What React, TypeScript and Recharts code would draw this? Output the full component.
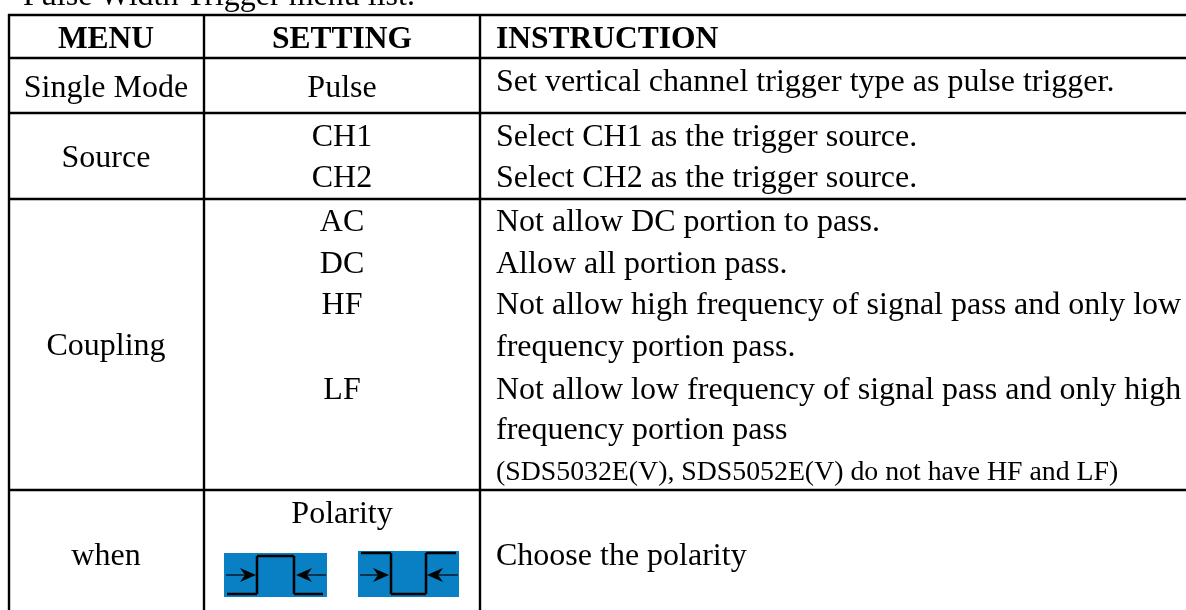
import React from "react";
import { ComposedChart, XAxis, YAxis, Scatter, ReferenceLine, ReferenceArea } from "recharts";

const W = 1186;
const H = 610;
const titleText = ["Pulse Width Trigger menu list."];
const titleBase = [5];
const menuTexts = ["Single Mode", "Source", "Coupling", "when"];
const menuBase = [97, 167, 355, 565];
const settingTexts = ["Pulse", "CH1", "CH2", "AC", "DC", "HF", "LF", "Polarity"];
const settingBase = [97, 146, 187, 231, 273, 314, 399, 523];
const instructionTexts = [
  "Set vertical channel trigger type as pulse trigger.",
  "Select CH1 as the trigger source.",
  "Select CH2 as the trigger source.",
  "Not allow DC portion to pass.",
  "Allow all portion pass.",
  "Not allow high frequency of signal pass and only low",
  "frequency portion pass.",
  "Not allow low frequency of signal pass and only high",
  "frequency portion pass",
  "Choose the polarity",
];
const instructionBase = [91, 146, 187, 231, 273, 314, 356, 399, 439, 565];
const noteText = ["(SDS5032E(V), SDS5052E(V) do not have HF and LF)"];
const noteBase = [480];
const headerTexts = ["MENU", "SETTING", "INSTRUCTION"];
const headerX = [106, 342, 496];
const headerBase = 48;
const hRules = [15, 58, 113, 199, 490];
const vRules = [9, 204, 480];

const FONT = "'Liberation Serif', 'Times New Roman', serif";

const cells = (texts: string[], base: number[], x: number) =>
  texts.map((t, i) => ({ x, y: base[i], t }));

const TextShape = (size: number, anchor: string, weight = 400) => (p: any) => (
  <text x={p.cx} y={p.cy} textAnchor={anchor} fontSize={size} fontWeight={weight} fontFamily={FONT} fill="#000">
    {p.payload.t}
  </text>
);

const arrowShape = (p: any) => {
  const d = p.payload.dir;
  const { cx, cy } = p;
  return (
    <path d={`M${cx} ${cy} L${cx - d * 16} ${cy - 7} L${cx - d * 11} ${cy} L${cx - d * 16} ${cy + 7} Z`} fill="#000" />
  );
};

const iconAreas = [
  { x1: 224, x2: 327, y1: 553, y2: 597 },
  { x1: 358, x2: 459, y1: 551, y2: 597 },
];
const iconPaths = [
  [[227, 594], [257, 594], [257, 556], [294, 556], [294, 594], [323, 594]],
  [[361, 553], [391, 553], [391, 594], [426, 594], [426, 553], [456, 553]],
];
const iconStems = [
  [[226, 575], [250, 575]],
  [[326, 575], [302, 575]],
  [[360, 575], [383, 575]],
  [[458, 575], [433, 575]],
];
const arrowTips = [
  { x: 256, y: 575, dir: 1 },
  { x: 296, y: 575, dir: -1 },
  { x: 389, y: 575, dir: 1 },
  { x: 427, y: 575, dir: -1 },
];

export default function App() {
  const headerData = headerTexts.map((t, i) => ({ x: headerX[i], y: headerBase, t }));
  return (
    <div style={{ width: W, height: H, overflow: "hidden", background: "#fff", filter: "blur(0.3px)" }}>
      <style>{`html,body{margin:0;padding:0;background:#fff}`}</style>
      <ComposedChart width={W} height={H} margin={{ top: 0, right: 0, bottom: 0, left: 0 }} data={[]}>
        <XAxis type="number" dataKey="x" domain={[0, W]} hide />
        <YAxis type="number" dataKey="y" domain={[0, H]} reversed hide />
        {hRules.map((y) => (
          <ReferenceLine key={`h${y}`} segment={[{ x: 8, y }, { x: W, y }]} stroke="#000" strokeWidth={2.4} ifOverflow="visible" />
        ))}
        {vRules.map((x) => (
          <ReferenceLine key={`v${x}`} segment={[{ x, y: 14 }, { x, y: H }]} stroke="#000" strokeWidth={2.4} ifOverflow="visible" />
        ))}
        {iconAreas.map((a, i) => (
          <ReferenceArea key={`a${i}`} {...a} fill="#0a80c4" fillOpacity={1} stroke="none" ifOverflow="visible" />
        ))}
        {iconPaths.map((path, i) =>
          path.slice(1).map((pt, j) => (
            <ReferenceLine
              key={`p${i}-${j}`}
              segment={[{ x: path[j][0], y: path[j][1] }, { x: pt[0], y: pt[1] }]}
              stroke="#000"
              strokeWidth={2.5}
              ifOverflow="visible"
            />
          ))
        )}
        {iconStems.map((s, i) => (
          <ReferenceLine key={`s${i}`} segment={[{ x: s[0][0], y: s[0][1] }, { x: s[1][0], y: s[1][1] }]} stroke="#000" strokeWidth={1.2} ifOverflow="visible" />
        ))}
        <Scatter data={arrowTips} shape={arrowShape} isAnimationActive={false} />
        <Scatter data={cells(titleText, titleBase, 23)} shape={TextShape(32, "start")} isAnimationActive={false} />
        <Scatter data={headerData.slice(0, 2)} shape={TextShape(31.5, "middle", 700)} isAnimationActive={false} />
        <Scatter data={headerData.slice(2)} shape={TextShape(31.5, "start", 700)} isAnimationActive={false} />
        <Scatter data={cells(menuTexts, menuBase, 106)} shape={TextShape(32, "middle")} isAnimationActive={false} />
        <Scatter data={cells(settingTexts, settingBase, 342)} shape={TextShape(32, "middle")} isAnimationActive={false} />
        <Scatter data={cells(instructionTexts, instructionBase, 496)} shape={TextShape(32, "start")} isAnimationActive={false} />
        <Scatter data={cells(noteText, noteBase, 496)} shape={TextShape(27.8, "start")} isAnimationActive={false} />
      </ComposedChart>
    </div>
  );
}
